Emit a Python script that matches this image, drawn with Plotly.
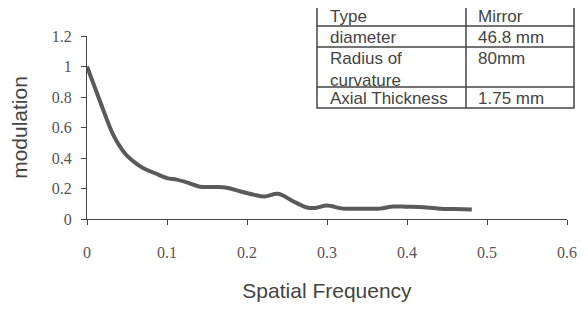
import plotly.graph_objects as go

# --- data ---
freq = [0, 0.01, 0.02, 0.033, 0.0475, 0.06, 0.07, 0.085, 0.1, 0.112, 0.125, 0.141,
        0.158, 0.175, 0.191, 0.208, 0.222, 0.239, 0.258, 0.275, 0.285, 0.30, 0.32,
        0.345, 0.366, 0.383, 0.40, 0.416, 0.441, 0.46, 0.481]
modulation = [1.0, 0.86, 0.72, 0.55, 0.43, 0.37, 0.335, 0.30, 0.268, 0.258, 0.24, 0.212,
              0.21, 0.205, 0.182, 0.16, 0.148, 0.165, 0.115, 0.075, 0.072, 0.088, 0.068,
              0.068, 0.068, 0.082, 0.08, 0.078, 0.068, 0.065, 0.062]

x_ticks = [0, 0.1, 0.2, 0.3, 0.4, 0.5, 0.6]
x_labels = ["0", "0.1", "0.2", "0.3", "0.4", "0.5", "0.6"]
y_ticks = [0, 0.2, 0.4, 0.6, 0.8, 1.0, 1.2]
y_labels = ["0", "0.2", "0.4", "0.6", "0.8", "1", "1.2"]

table_left = ["Type", "diameter", "Radius of<br>curvature", "Axial Thickness"]
table_right = ["Mirror", "46.8 mm", "80mm", "1.75 mm"]

# --- layout geometry (pixels in the 588x313 window; page body has an 8px margin) ---
OFF = 8
W, H = 588 - OFF, 313 - OFF
L, R, T, B = 87 - OFF, 21, 36 - OFF, 94
pw, ph = W - L - R, H - T - B

def px(xp):
    return (xp - OFF - L) / pw

def py(yp):
    return (H - B - (yp - OFF)) / ph

fig = go.Figure()
fig.add_trace(go.Scatter(x=freq, y=modulation, mode="lines",
                         line=dict(color="#5a5a5a", width=4, shape="spline", smoothing=1.0),
                         showlegend=False, hoverinfo="skip"))

tick_font = dict(family="Liberation Serif, Times New Roman, serif", size=16, color="#555")
title_font = dict(family="Liberation Sans, Arial, sans-serif", size=21, color="#444")

fig.update_layout(
    width=W, height=H,
    margin=dict(l=L, r=R, t=T, b=B, pad=0, autoexpand=False),
    paper_bgcolor="white", plot_bgcolor="white",
    xaxis=dict(range=[0, 0.6], tickvals=x_ticks, ticktext=x_labels, showgrid=False,
               zeroline=False, showline=True, linecolor="#444", linewidth=1,
               ticks="outside", ticklen=5, tickcolor="#444", tickfont=tick_font,
               ticklabelstandoff=14, automargin=False,
               title=dict(text="Spatial Frequency", font=title_font, standoff=23)),
    yaxis=dict(range=[0, 1.2], tickvals=y_ticks, ticktext=y_labels, showgrid=False,
               zeroline=False, showline=True, linecolor="#444", linewidth=1,
               ticks="outside", ticklen=5, tickcolor="#444", tickfont=tick_font,
               ticklabelstandoff=6, automargin=False,
               title=dict(text="modulation", font=title_font, standoff=18)),
)

# --- info table ---
tx0, tx1, txs = 317, 574, 466
row_edges = [5, 26, 47, 87, 108]
line = dict(color="#444", width=1.5)
fig.add_shape(type="rect", xref="paper", yref="paper",
              x0=px(tx0), x1=px(tx1), y0=py(row_edges[-1]), y1=py(row_edges[0]),
              line=line, fillcolor="white", layer="above")
for ye in row_edges[1:-1]:
    fig.add_shape(type="line", xref="paper", yref="paper",
                  x0=px(tx0), x1=px(tx1), y0=py(ye), y1=py(ye), line=line)
fig.add_shape(type="line", xref="paper", yref="paper",
              x0=px(txs), x1=px(txs), y0=py(row_edges[0]), y1=py(row_edges[-1]), line=line)

cell_font = dict(family="Liberation Sans, Arial, sans-serif", size=17, color="#444")
for i in range(len(table_left)):
    top = row_edges[i]
    for txt, xl in ((table_left[i], tx0 + 12), (table_right[i], txs + 11)):
        fig.add_annotation(xref="paper", yref="paper", x=px(xl), y=py(top + 1),
                           text=txt, showarrow=False, xanchor="left", yanchor="top",
                           align="left", font=cell_font, borderpad=0)

fig.write_html("out.html")
